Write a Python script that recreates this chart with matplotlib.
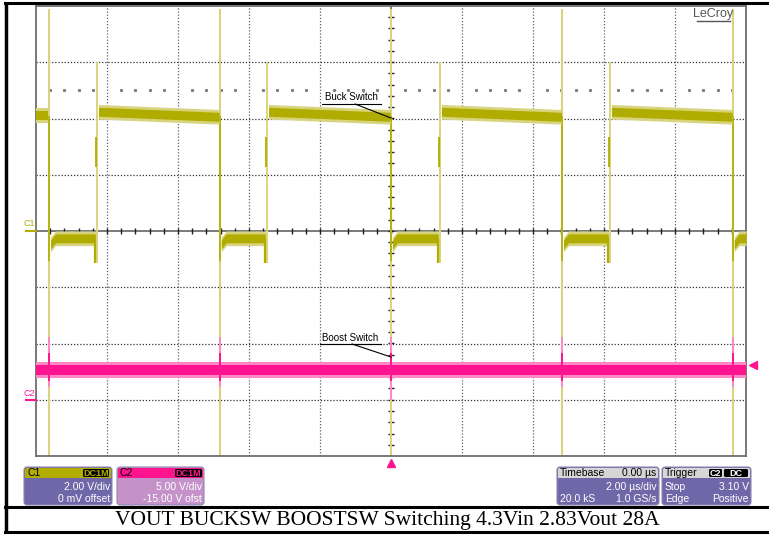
import numpy as np
import matplotlib.pyplot as plt
from matplotlib.patches import FancyBboxPatch, Rectangle

# scope screen: 2 us/div x 10 div (trigger at centre), 8 vertical divisions
# C1 (buck switch) edges, microseconds
c1_fall_us = [-9.63, -4.82, 0.0, 4.82, 9.63]
c1_rise_us = [-8.28, -3.49, 1.38, 6.17]
# C1 levels, in divisions
c1_head_div = 2.05           # plateau before the first edge
c1_high_div = [2.12, 2.03]   # start / end of every high plateau
c1_low_div = -0.13
c1_low_start_div = -0.24
c1_low_dip_div = -0.57
c1_fall_spike_div = [3.95, -4.0]
c1_rise_spike_div = [3.0, -0.57]
c1_noise_div = 0.08

# C2 (boost switch)
c2_level_div = -2.47
c2_noise_div = 0.09
c2_spike_div = [-1.88, -2.77]
c2_trig_spike_low = -3.0
c2_trig_level_div = -2.38

caption = "VOUT BUCKSW BOOSTSW Switching 4.3Vin 2.83Vout 28A"

OLIVE = '#b1ac00'
OLIVE_LT = '#d8d47e'
PINK = '#ff1490'
PINK_LT = '#ff86c4'
BOX_BLUE = '#6f67a7'
BOX_LILAC = '#c492c9'
SANS = 'Liberation Sans'

W, H = 769, 535
fig = plt.figure(figsize=(W / 100, H / 100), dpi=100)
ax = fig.add_axes([36 / W, 1 - 456 / H, 710 / W, 450 / H])
ax.set_xlim(-10, 10)
ax.set_ylim(-4, 4)
ax.set_xticks([])
ax.set_yticks([])
for s in ax.spines.values():
    s.set_color('#6e6e6e')
    s.set_linewidth(1.3)

# graticule
for g in [-8, -6, -4, -2, 2, 4, 6, 8]:
    ax.axvline(g, color='#606060', lw=0.9, ls=(0, (1, 1.5)), zorder=1)
for g in [-3, -2, -1, 1, 2, 3]:
    ax.axhline(g, color='#303030', lw=0.9, ls=(0, (1, 1.5)), zorder=1)
ax.axhline(0, color='#7a7a7a', lw=1.4, zorder=1)
ax.axvline(0, color='#7a7a7a', lw=1.4, zorder=1)
tx = np.arange(-9.6, 9.7, 0.4)
ax.plot(tx, np.zeros_like(tx), ls='none', marker='|', ms=5, mew=1, color='#202020', zorder=1)
ty = np.arange(-3.8, 3.9, 0.2)
ax.plot(np.zeros_like(ty), ty, ls='none', marker='_', ms=5, mew=1, color='#202020', zorder=1)
dots = tx[np.abs(tx / 2 - np.round(tx / 2)) > 0.01]
ax.plot(dots, np.full_like(dots, 2.5), ls='none', marker='s', ms=1.2, color='#808080', zorder=1)


def band(t, y, hw, color, soft):
    t = np.asarray(t, float)
    y = np.asarray(y, float)
    # lighter fringe stands in for the sample noise around the trace
    ax.fill_between(t, y - hw - 0.05, y + hw + 0.05, color=soft, lw=0, zorder=3)
    ax.fill_between(t, y - hw, y + hw, color=color, lw=0, zorder=3)


# C1 trace
ax.vlines(c1_fall_us, c1_fall_spike_div[1], c1_fall_spike_div[0], color=OLIVE_LT, lw=1.5, zorder=2)
ax.vlines(c1_fall_us, c1_low_start_div - 0.3, c1_head_div, color=OLIVE, lw=1.2, zorder=2)
ax.vlines(c1_rise_us, c1_rise_spike_div[1], c1_rise_spike_div[0], color=OLIVE_LT, lw=1.4, zorder=2)
ax.vlines(np.array(c1_rise_us) - 0.03, 1.14, 1.67, color=OLIVE, lw=1.3, zorder=2)
band([-10, c1_fall_us[0] - 0.02], [c1_head_div, c1_head_div], c1_noise_div, OLIVE, OLIVE_LT)
for r, f in zip(c1_rise_us, c1_fall_us[1:]):
    band([r + 0.04, f - 0.02], c1_high_div, c1_noise_div, OLIVE, OLIVE_LT)
for f, r in zip(c1_fall_us, c1_rise_us + [10.0]):
    end = r - 0.05 if r < 10 else 10
    band([f + 0.04, f + 0.18, end], [c1_low_start_div, c1_low_div, c1_low_div],
         c1_noise_div, OLIVE, OLIVE_LT)
ax.vlines(np.array(c1_rise_us) - 0.05, c1_low_dip_div, c1_low_div, color=OLIVE, lw=1.6, zorder=3)

# C2 trace
band([-10, 10], [c2_level_div, c2_level_div], c2_noise_div, PINK, PINK_LT)
ax.vlines(c1_fall_us, c2_spike_div[1], c2_spike_div[0], color=PINK_LT, lw=1.4, zorder=4)
ax.vlines(c1_fall_us, c2_level_div - 0.2, c2_level_div + 0.3, color=PINK, lw=1.4, zorder=4)
ax.vlines([0.0], c2_trig_spike_low, c2_spike_div[1], color=PINK_LT, lw=1.4, zorder=4)

# trigger markers
ax.plot([0], [-4.12], marker='^', ms=6, color=PINK, clip_on=False, zorder=6)
ax.plot([10.2], [c2_trig_level_div], marker='<', ms=6, color=PINK, clip_on=False, zorder=6)

# overlay in pixel coordinates
ov = fig.add_axes([0, 0, 1, 1], zorder=5)
ov.set_xlim(0, W)
ov.set_ylim(H, 0)
ov.axis('off')

ov.plot([6, 6], [2, 533], color='black', lw=2.5, solid_capstyle='butt')
ov.plot([5, W], [3, 3], color='black', lw=2.2)
ov.plot([5, W], [532, 532], color='black', lw=2.2)
ov.plot([5, W], [507, 507], color='black', lw=2.2)
ov.text(387, 521, caption, family='Liberation Serif', fontsize=15.5, ha='center', va='center')

ov.text(713, 14, 'LeCroy', family=SANS, fontsize=9, color='#555555', ha='center', va='center')
ov.plot([697, 730], [21, 21], color='#555555', lw=1)

ov.text(24, 224, 'C1', family=SANS, fontsize=6.5, color=OLIVE, ha='left', va='center')
ov.plot([26, 36], [231, 231], color=OLIVE, lw=1.5)
ov.text(24, 393, 'C2', family=SANS, fontsize=6.5, color=PINK, ha='left', va='center')
ov.plot([26, 36], [400, 400], color=PINK, lw=1.5)

ov.text(351, 97, 'Buck Switch', family=SANS, fontsize=7, ha='center', va='center')
ov.plot([322, 381], [104, 104], color='black', lw=0.8)
ov.plot([355, 391], [104, 118], color='black', lw=0.8)
ov.text(350, 338, 'Boost Switch', family=SANS, fontsize=7, ha='center', va='center')
ov.plot([320, 381], [344, 344], color='black', lw=0.8)
ov.plot([352, 391], [344, 357], color='black', lw=0.8)


def info_box(x0, x1, head_color, body_color, title, title_color, rows, badges=()):
    y0, y1, yh = 467, 505, 478
    ov.add_patch(FancyBboxPatch((x0, y0), x1 - x0, y1 - y0, boxstyle='round,pad=0,rounding_size=3',
                                fc=body_color, ec='#8c88b0', lw=0.8))
    ov.add_patch(FancyBboxPatch((x0 + 1, y0 + 1), x1 - x0 - 2, yh - y0 - 1,
                                boxstyle='round,pad=0,rounding_size=2', fc=head_color, ec='none'))
    ov.add_patch(Rectangle((x0 + 1, yh - 4), x1 - x0 - 2, 4, fc=head_color, ec='none'))
    ov.text(x0 + 3, y0 + 6, title, family=SANS, fontsize=7.5, color=title_color, va='center')
    for bx0, bx1, label, fg in badges:
        ov.add_patch(FancyBboxPatch((bx0, y0 + 2), bx1 - bx0, 8, boxstyle='round,pad=0,rounding_size=1.5',
                                    fc='black', ec='none'))
        ov.text((bx0 + bx1) / 2, y0 + 6, label, family=SANS, fontsize=6.5, color=fg,
                ha='center', va='center', weight='bold')
    for y, left, right in rows:
        if left:
            ov.text(x0 + 3, y, left, family=SANS, fontsize=7.5, color='white', va='center')
        ov.text(x1 - 2, y, right, family=SANS, fontsize=7.5, color='white', va='center', ha='right')


info_box(24, 112, OLIVE, BOX_BLUE, 'C1', 'black',
         [(487, '', '2.00 V/div'), (499, '', '0 mV offset')], [(83, 109, 'DC1M', OLIVE)])
info_box(117, 204, PINK, BOX_LILAC, 'C2', 'black',
         [(487, '', '5.00 V/div'), (499, '', '-15.00 V ofst')], [(175, 202, 'DC1M', PINK)])
info_box(557, 659, '#d6d6d6', BOX_BLUE, 'Timebase', 'black',
         [(487, '', '2.00 \u00b5s/div'), (499, '20.0 kS', '1.0 GS/s')])
ov.text(656, 473, '0.00 \u00b5s', family=SANS, fontsize=7.5, ha='right', va='center')
info_box(662, 751, '#d6d6d6', BOX_BLUE, 'Trigger', 'black',
         [(487, 'Stop', '3.10 V'), (499, 'Edge', 'Positive')],
         [(709, 722, 'C2', 'white'), (724, 748, 'DC', 'white')])

fig.savefig('out.png', dpi=100)
